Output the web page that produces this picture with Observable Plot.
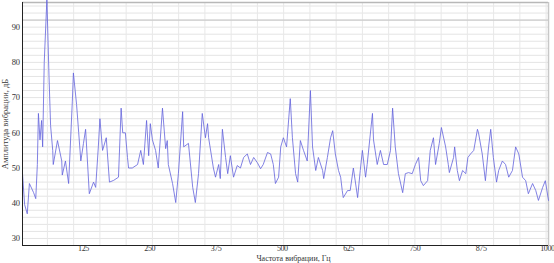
<!DOCTYPE html>
<html><head><meta charset="utf-8">
<script src="https://cdn.jsdelivr.net/npm/d3@7"></script>
<script src="https://cdn.jsdelivr.net/npm/@observablehq/plot@0.6"></script>
<style>body{margin:0;background:#fff}</style>
</head><body><div id="chart"></div>
<script>
const freq = [10,14,19,23,31,35,38,40,43,46,48,51,56,60,63,67,68,76,84,85,91,97,104,106,112,116,120,125,129,136,144,148,153,156,161,168,174,182,191,196,199,204,208,210,217,227,233,238,244,248,251,255,261,266,274,280,283,285,293,299,304,312,314,323,331,336,342,349,355,359,361,370,374,380,383,387,393,397,402,408,415,421,427,434,440,446,453,459,464,472,478,483,487,493,497,502,508,515,519,525,529,534,540,547,553,557,563,568,576,578,585,591,595,600,606,610,613,615,623,628,634,642,647,651,657,660,670,672,679,685,691,698,704,708,713,719,727,732,738,745,751,757,761,766,774,779,785,789,796,800,808,813,815,823,825,830,834,840,846,850,855,861,868,870,877,883,889,893,898,904,908,915,921,927,934,940,946,953,959,964,972,978,983,991,996,1002];
const ampl = [48.4,39.6,37,45.6,43,41.3,51,65.5,58,63.5,56,80,98,76,62,55,51,57.8,52,48,52,45.6,69,77,68,60,52,57,61,42.7,46,44.5,56,64,55,58.6,46,46.5,47.4,67,60,60,53,50,50,51,55,51,63.5,53.5,62.6,58,55,50,67,55.5,57.8,51,45.6,40.2,48.4,66,56,57,44.5,40.2,48.4,65.5,58.6,62.6,58.6,50,47.4,51,47,61,53,48.4,53.5,47.4,50.7,50,53,54,51,53,51.5,49.8,51,54.4,54,51,45.6,47.4,56,58.6,56,69.7,58.6,48.4,46,57.8,55,52,72,56,49.3,53,49.3,47,53,58.6,60.6,54,49.3,47.4,43.6,41.6,43.6,43.6,50,41.6,49.3,55,47.4,51,65.5,58,51,55,51,51,55,67,56,48.4,43,48.4,48.7,48.4,51,53,46.4,45,46.4,55,58.6,51,57,61.5,56,51,48.7,53,56,49.3,46.4,49.3,48.4,53,54,55,61,60,54,46.4,56,61,53,46,49.3,52,51,47.4,49.3,56,54,47.4,46.4,42.7,45.6,43.6,40.8,44.5,46.4,40.8];
const xTicks = [125,250,375,500,625,750,875,1000];
const yTicks = [30,40,50,60,70,80,90];
const yGrid = d3.range(30, 97, 2);
const xGrid = d3.range(57, 1002, 49.5);
const xTitle = "Частота вибрации, Гц";
const yTitle = "Амплитуда вибрации, дБ";

const data = freq.map((f, i) => ({f, a: ampl[i]}));
const font = "Liberation Serif, Times New Roman, serif";

const chart = Plot.plot({
  width: 554, height: 263,
  marginLeft: 22, marginRight: 6, marginTop: 2, marginBottom: 18,
  style: {fontFamily: font, fontSize: "8.5px", color: "#333", background: "#fff"},
  x: {domain: [10, 1002]},
  y: {domain: [28, 97]},
  marks: [
    Plot.ruleY(yGrid, {stroke: "#e4e4e4", strokeWidth: 1}),
    Plot.ruleX(xGrid, {stroke: "#e8e8e8", strokeWidth: 1}),
    Plot.ruleY([92], {stroke: "#c4c4c4", strokeWidth: 1}),
    Plot.ruleY([97], {stroke: "#b8b8b8", strokeWidth: 1.5}),
    Plot.ruleX([1002], {stroke: "#c8c8c8", strokeWidth: 1.5}),
    Plot.line(data, {x: "f", y: "a", stroke: "#6262dc", strokeWidth: 0.8, curve: "linear"}),
    Plot.ruleX([10], {stroke: "#222", strokeWidth: 1}),
    Plot.ruleY([28], {stroke: "#222", strokeWidth: 1}),
    Plot.axisX({ticks: xTicks, tickFormat: d => String(d), tickSize: 0, tickPadding: 0, fontSize: 8, label: null}),
    Plot.text([xTitle], {frameAnchor: "bottom", lineAnchor: "bottom", dx: 8, dy: 15.5, fontSize: 8, fill: "#333"}),
    Plot.axisY({ticks: yTicks, tickFormat: d => String(d), tickSize: 0, tickPadding: 3, label: yTitle, labelAnchor: "center", labelOffset: 21, labelArrow: "none"})
  ]
});
chart.querySelectorAll("[aria-label='x-axis tick label'] text, [aria-label='y-axis tick label'] text")
  .forEach(t => t.setAttribute("letter-spacing", "-0.4"));
document.getElementById("chart").appendChild(chart);
</script></body></html>
